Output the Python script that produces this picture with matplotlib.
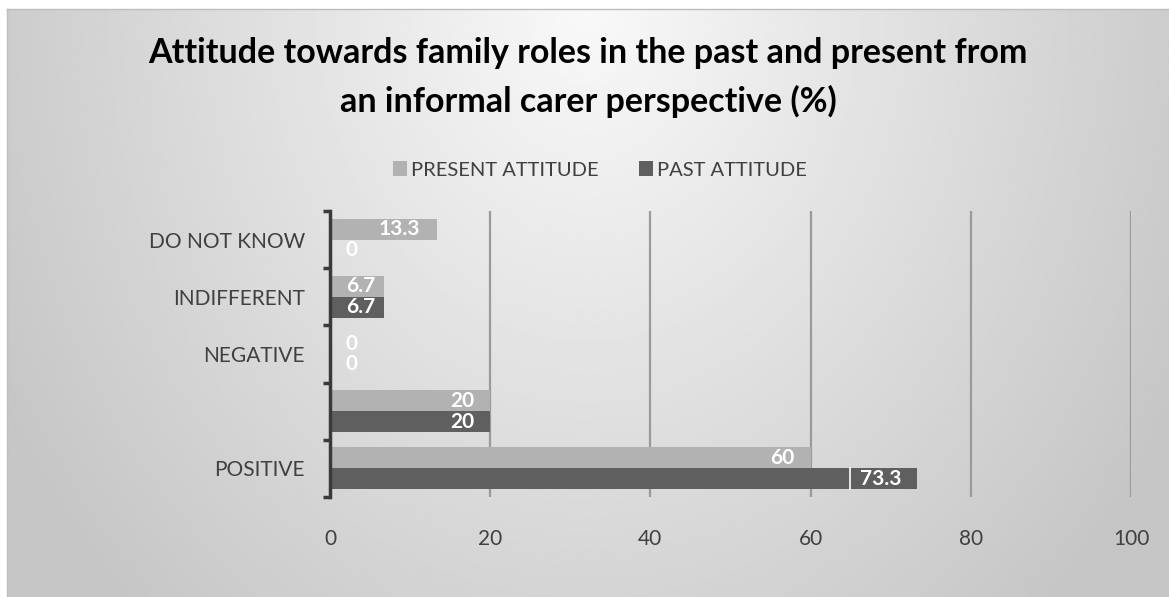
import numpy as np
import matplotlib
matplotlib.use("Agg")
from matplotlib import pyplot as plt
from matplotlib.patches import Rectangle

plt.rcParams['font.family'] = ['Lato', 'DejaVu Sans']

categories = ["POSITIVE", "", "NEGATIVE", "INDIFFERENT", "DO NOT KNOW"]
present_attitude = [60, 20, 0, 6.7, 13.3]
past_attitude = [73.3, 20, 0, 6.7, 0]
x_ticks = [0, 20, 40, 60, 80, 100]

LIGHT = "#b2b2b2"
DARK = "#5f5f5f"
TEXT = "#404040"

W, H = 1169, 597
fig = plt.figure(figsize=(W / 100, H / 100), dpi=100)

# radial grey backdrop, brightest at the top middle
bg = fig.add_axes([7 / W, 0, 1 - 7 / W, 1 - 9 / H])
gx, gy = np.meshgrid(np.linspace(0, 1, 400), np.linspace(0, 1, 200))
r = np.sqrt(((gx - 0.5) / 0.55) ** 2 + (gy * 0.75) ** 2)
shade = 0.975 - 0.19 * np.clip(r, 0, 1.05)
bg.imshow(shade, cmap="gray", vmin=0, vmax=1, aspect="auto",
          extent=[0, 1, 1, 0], interpolation="bilinear")
bg.set_xlim(0, 1)
bg.set_ylim(1, 0)
bg.axis("off")
fig.add_artist(plt.Line2D([7 / W, 1], [1 - 9 / H, 1 - 9 / H], color="#bdbdbd", lw=1))
fig.add_artist(plt.Line2D([7 / W, 7 / W], [0, 1 - 9 / H], color="#bdbdbd", lw=1))

ax = fig.add_axes([330 / W, 1 - 497 / H, 801 / W, 286 / H])
ax.patch.set_alpha(0)

y = np.arange(len(categories))
h = 0.367
ax.barh(y + h / 2, present_attitude, height=h, color=LIGHT, zorder=3, label="PRESENT ATTITUDE")
ax.barh(y - h / 2, past_attitude, height=h, color=DARK, zorder=3, label="PAST ATTITUDE")

ax.set_xlim(0, 100)
ax.set_ylim(-0.5, len(categories) - 0.5)
ax.set_xticks(x_ticks)
ax.set_xticklabels([str(t) for t in x_ticks])
for t in x_ticks[1:]:
    ax.axvline(t, color="#9a9a9a", lw=1.6, zorder=1)

ax.set_yticks(y)
ax.set_yticklabels(categories)
ax.set_yticks(np.arange(-0.5, len(categories)), minor=True)
ax.tick_params(axis="y", which="major", length=0, pad=18, labelsize=15, labelcolor=TEXT)
ax.tick_params(axis="y", which="minor", length=5, width=2.5, color="#3a3a3a", direction="out")
ax.tick_params(axis="x", length=0, pad=23, labelsize=15, labelcolor=TEXT)
for side in ["top", "right", "bottom"]:
    ax.spines[side].set_visible(False)
ax.spines["left"].set_color("#3a3a3a")
ax.spines["left"].set_linewidth(2.5)
ax.spines["left"].set_zorder(4)


def put_label(val, ypos):
    # labels sit inside the bar end; short bars get them near the axis
    if val < 10:
        return ax.annotate(f"{val:g}", (0, ypos), xytext=(11.5, 0), textcoords="offset points",
                           ha="left", va="center", color="white", fontsize=15,
                           fontweight="bold", zorder=6)
    return ax.annotate(f"{val:g}", (val, ypos), xytext=(-11.5, 0), textcoords="offset points",
                       ha="right", va="center", color="white", fontsize=15,
                       fontweight="bold", zorder=6)


for i, v in enumerate(present_attitude):
    put_label(v, y[i] + h / 2)
past_labels = [put_label(v, y[i] - h / 2) for i, v in enumerate(past_attitude)]

# filled box behind the largest past value label, white rule on its left
fig.canvas.draw()
k = int(np.argmax(past_attitude))
ext = past_labels[k].get_window_extent().transformed(ax.transData.inverted())
x0 = ext.x0 - 1.2
ax.add_patch(Rectangle((x0, y[k] - h), past_attitude[k] - x0, h, facecolor=DARK,
                       edgecolor="none", zorder=5))
ax.plot([x0, x0], [y[k] - h, y[k]], color="white", lw=1.2, zorder=5.5)

fig.text(588 / W, 1 - 63 / H, "Attitude towards family roles in the past and present from",
         ha="center", va="baseline", fontsize=24.5, fontweight="bold", color="black")
fig.text(588 / W, 1 - 112 / H, "an informal carer perspective (%)",
         ha="center", va="baseline", fontsize=24.5, fontweight="bold", color="black")

handles, labels = ax.get_legend_handles_labels()
fig.legend(handles, labels, loc="center", bbox_to_anchor=(600 / W, 1 - 170 / H), ncol=2,
           frameon=False, fontsize=14.5, labelcolor=TEXT, handlelength=0.7, handleheight=0.7,
           handletextpad=0.2, columnspacing=2.0)

fig.savefig("out.png", dpi=100)
